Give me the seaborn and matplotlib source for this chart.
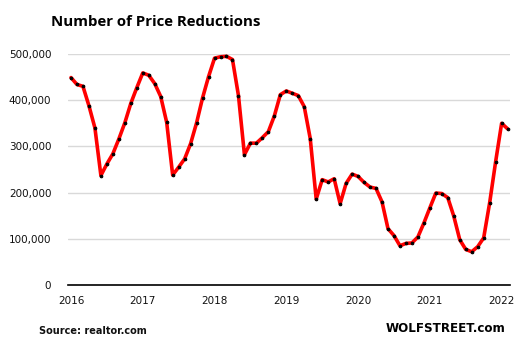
import matplotlib
matplotlib.use("Agg")
import matplotlib.pyplot as plt
import matplotlib.ticker as mticker
import seaborn as sns
import pandas as pd

# monthly price reductions, Jan 2016 - Feb 2022
reductions = [
    449000, 434000, 430000, 388000, 340000, 237000, 262000, 284000, 316000, 351000, 393000, 427000,  # 2016
    459000, 454000, 436000, 408000, 352000, 238000, 255000, 273000, 306000, 351000, 405000, 451000,  # 2017
    491000, 494000, 495000, 488000, 410000, 282000, 307000, 307000, 319000, 332000, 366000, 412000,  # 2018
    420000, 415000, 410000, 386000, 317000, 186000, 228000, 223000, 230000, 176000, 220000, 240000,  # 2019
    235000, 222000, 212000, 209000, 180000, 122000, 107000, 85000, 90000, 91000, 104000, 134000,     # 2020
    167000, 199000, 198000, 189000, 149000, 98000, 77000, 72000, 83000, 102000, 178000, 267000,      # 2021
    350000, 338000,                                                                                 # 2022
]
year_labels = ["2016", "2017", "2018", "2019", "2020", "2021", "2022"]

df = pd.DataFrame({"month": range(len(reductions)), "reductions": reductions})

sns.set_style("white")
plt.rcParams["font.family"] = ["DejaVu Sans"]

fig = plt.figure(figsize=(5.21, 3.52), dpi=100)
ax = fig.add_axes([68 / 521, 1 - 285 / 352, (510 - 68) / 521, (285 - 54) / 352])

sns.lineplot(data=df, x="month", y="reductions", ax=ax, color="#ff0000", linewidth=2.6,
             marker="o", markersize=1.9, markerfacecolor="black", markeredgecolor="black",
             zorder=3)

ax.set_xlim(-0.5, 73.4)
ax.set_ylim(0, 500000)
ax.set_xticks(range(0, 73, 12))
ax.set_xticklabels(year_labels)
ax.set_yticks(range(0, 500001, 100000))
ax.yaxis.set_major_formatter(mticker.FuncFormatter(lambda v, p: f"{int(v):,}"))
ax.grid(axis="y", color="#d9d9d9", linewidth=1)
ax.set_axisbelow(True)
for s in ["top", "right", "left"]:
    ax.spines[s].set_visible(False)
ax.spines["bottom"].set_color("black")
ax.spines["bottom"].set_linewidth(1.2)
ax.tick_params(axis="both", length=0, labelsize=7.5, colors="#111111")
ax.tick_params(axis="x", pad=8)
ax.tick_params(axis="y", pad=12)
ax.set_xlabel("")
ax.set_ylabel("")

fig.text(51 / 521, 1 - 22 / 352, "Number of Price Reductions", fontsize=10.8,
         fontweight="bold", family=["Open Sans", "DejaVu Sans"], va="center", ha="left",
         color="black")
fig.text(39 / 521, 1 - 331 / 352, "Source: realtor.com", fontsize=7.0,
         fontweight="bold", va="center", ha="left", color="#111111")
fig.text(506 / 521, 1 - 329 / 352, "WOLFSTREET.com", fontsize=8.6,
         fontweight="bold", va="center", ha="right", color="black")

fig.savefig("out.png", dpi=100)
